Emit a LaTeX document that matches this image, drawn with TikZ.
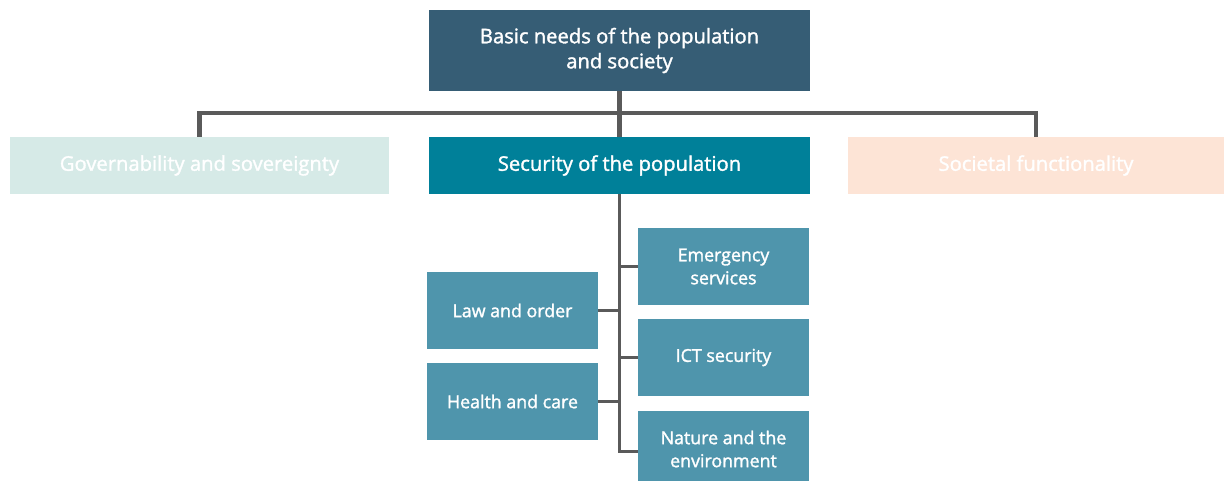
\documentclass[tikz,border=0pt]{standalone}
\usepackage{xcolor}
\usepackage{fontspec}
\usepackage{tikz}
\setmainfont{Open Sans}[FakeBold=1.6, UprightFeatures={FakeBold=1.6}]
\definecolor{blunotte}{RGB}{54,93,117}
\definecolor{petrolio}{RGB}{0,128,153}
\definecolor{azzurro}{RGB}{79,149,172}
\definecolor{verdino}{RGB}{214,234,231}
\definecolor{pesca}{RGB}{253,228,214}
\definecolor{grigio}{RGB}{90,90,90}
\tikzstyle{topbox} = [rectangle, fill=blunotte, text=white, minimum width=381pt, minimum height=81pt, align=center, font=\fontsize{20.2}{25}\selectfont]
\tikzstyle{mainbox} = [rectangle, minimum height=57pt, text=white, align=center, font=\fontsize{20.2}{25}\selectfont]
\tikzstyle{subbox} = [rectangle, fill=azzurro, text=white, minimum width=171pt, minimum height=77pt, align=center, font=\fontsize{17.8}{23}\selectfont]
\tikzstyle{link} = [draw=grigio, line width=4.5pt]
\tikzstyle{sublink} = [draw=grigio, line width=3pt]

\begin{document}
\begin{tikzpicture}[x=1pt, y=-1pt]
	\useasboundingbox (0,0) rectangle (1225,481);
	\node [topbox] (basic) at (619.5,50.5) {Basic needs of the population\\and society};
	\node [mainbox, fill=verdino, minimum width=379pt] (gov) at (199.5,165.5) {Governability and sovereignty};
	\node [mainbox, fill=petrolio, minimum width=381pt] (security) at (619.5,165.5) {Security of the population};
	\node [mainbox, fill=pesca, minimum width=376pt] (soc) at (1036,165.5) {Societal functionality};
	% colonna sinistra
	\node [subbox] (law) at (512.5,310.5) {Law and order};
	\node [subbox] (health) at (512.5,401.5) {Health and care};
	% colonna destra
	\node [subbox] (emergency) at (723.5,266.5) {Emergency\\services};
	\node [subbox] (ict) at (723.5,357.5) {ICT security};
	\node [subbox] (nature) at (723.5,449) {Nature and the\\environment};
	\coordinate (hub) at (619.5,113);
	\coordinate (trunk) at (619.5,451);
	\draw [link] (basic.south) -- (security.north);
	\draw [link] (gov.north) |- (hub) -| (soc.north);
	\draw [sublink] (security.south) -- (trunk) -- (trunk -| nature.west);
	\draw [sublink] (emergency.west) -- (emergency.west -| trunk);
	\draw [sublink] (ict.west) -- (ict.west -| trunk);
	\draw [sublink] (law.east) -- (law.east -| trunk);
	\draw [sublink] (health.east) -- (health.east -| trunk);
\end{tikzpicture}
\end{document}
